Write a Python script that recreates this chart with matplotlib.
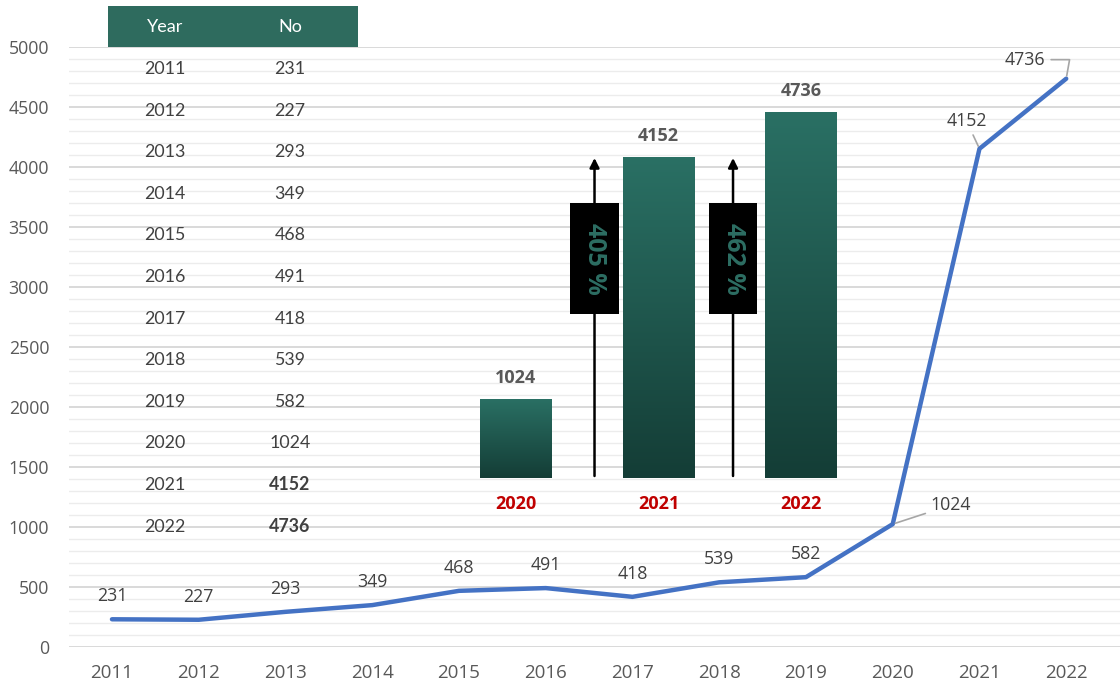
import matplotlib
matplotlib.use('Agg')
import matplotlib.pyplot as plt
import numpy as np
from matplotlib.patches import Rectangle
from matplotlib.colors import LinearSegmentedColormap

# ---------------- data ----------------
years = [2011, 2012, 2013, 2014, 2015, 2016, 2017, 2018, 2019, 2020, 2021, 2022]
counts = [231, 227, 293, 349, 468, 491, 418, 539, 582, 1024, 4152, 4736]
y_ticks = [0, 500, 1000, 1500, 2000, 2500, 3000, 3500, 4000, 4500, 5000]
bar_years = ['2020', '2021', '2022']
bar_values = [1024, 4152, 4736]
growth_labels = ['405 %', '462 %']
table_header = ['Year', 'No']
bold_years = [2021, 2022]

W, H = 1120, 686
fig = plt.figure(figsize=(W / 100, H / 100), dpi=100)
fig.patch.set_facecolor('white')

def fx(px):
    return px / W

def fy(py):
    return 1 - py / H

FONT = 'Open Sans'
TXT = '#595959'

# ---------------- main line chart ----------------
ax = fig.add_axes([fx(68.6), fy(647), fx(1120) - fx(68.6), fy(47) - fy(647)])
ax.set_facecolor('none')
x = np.arange(len(years))
ax.plot(x, counts, color='#4472C4', lw=3.2, solid_joinstyle='round',
        solid_capstyle='round', zorder=3)
ax.set_xlim(-0.5, 11.62)
ax.set_ylim(0, 5000)
ax.set_yticks(y_ticks)
ax.set_yticklabels([str(v) for v in y_ticks], family=FONT)
ax.set_yticks(np.arange(0, 5001, 100), minor=True)
ax.grid(axis='y', which='major', color='#D9D9D9', lw=1.4)
ax.grid(axis='y', which='minor', color='#ECECEC', lw=1.0)
ax.set_axisbelow(True)
for s in ax.spines.values():
    s.set_visible(False)
ax.tick_params(length=0, which='both')
ax.tick_params(axis='y', pad=14, labelsize=12.8, labelcolor=TXT)
ax.set_xticks(x)
ax.set_xticklabels([str(y) for y in years], family=FONT)
ax.tick_params(axis='x', pad=12, labelsize=13.5, labelcolor=TXT)

for i, v in enumerate(counts[:9]):
    ax.annotate(str(v), (i, v), xytext=(0, 16.6), textcoords='offset points',
                ha='center', va='center', fontsize=12.8, color='#404040', family=FONT)

lead = dict(arrowstyle='-', color='#A6A6A6', lw=1.2, shrinkA=2, shrinkB=2)
ax.annotate(str(counts[9]), (9, counts[9]), xytext=(42, 13.7), textcoords='offset points',
            ha='center', va='center', fontsize=12.8, color='#404040', family=FONT,
            arrowprops=lead)
ax.annotate(str(counts[10]), (10, counts[10]), xytext=(-9.4, 20.2), textcoords='offset points',
            ha='center', va='center', fontsize=12.8, color='#404040', family=FONT,
            arrowprops=lead)
lead2 = dict(lead, connectionstyle='angle,angleA=0,angleB=80,rad=0')
ax.annotate(str(counts[11]), (11, counts[11]), xytext=(-29.5, 13.7), textcoords='offset points',
            ha='center', va='center', fontsize=12.8, color='#404040', family=FONT,
            arrowprops=lead2)

# ---------------- inset bar chart ----------------
left_px, right_px = 444.75, 872.25
bot_px = 478
top_px = bot_px - 5000 * 0.0773
axb = fig.add_axes([fx(left_px), fy(bot_px), fx(right_px) - fx(left_px), fy(top_px) - fy(bot_px)])
axb.set_facecolor('none')
axb.axis('off')
bx = np.arange(len(bar_values))
bars = axb.bar(bx, bar_values, width=0.505, color='#24675C', zorder=2)
cmap = LinearSegmentedColormap.from_list('g', ['#143D36', '#2A7064'])
grad = np.linspace(0, 1, 256).reshape(-1, 1)
for b in bars:
    x0, w, h = b.get_x(), b.get_width(), b.get_height()
    im = axb.imshow(grad, extent=[x0, x0 + w, 0, h], origin='lower', cmap=cmap,
                    aspect='auto', zorder=3)
    im.set_clip_path(b)
axb.set_xlim(-0.5, 2.5)
axb.set_ylim(0, 5000)

for i, v in enumerate(bar_values):
    axb.annotate(str(v), (i, v), xytext=(0, 15), textcoords='offset points',
                 ha='center', va='center', fontsize=13, fontweight='bold',
                 color=TXT, family=FONT)
    axb.annotate(bar_years[i], (i, 0), xytext=(0, -18.7), textcoords='offset points',
                 ha='center', va='center', fontsize=13, fontweight='bold',
                 color='#C00000', family=FONT, annotation_clip=False)

arrow_x = [0.551, 1.523]
for k, lab in enumerate(growth_labels):
    ax_ = arrow_x[k]
    axb.annotate('', xy=(ax_, 4140), xytext=(ax_, 26),
                 arrowprops=dict(arrowstyle='-|>', color='black', lw=1.8,
                                 mutation_scale=14, shrinkA=0, shrinkB=0),
                 zorder=4)
    bw = 0.34
    axb.add_patch(Rectangle((ax_ - bw / 2, 2122), bw, 1436, facecolor='black',
                            edgecolor='none', zorder=5))
    axb.text(ax_, 2840, lab, rotation=-90, ha='center', va='center', fontsize=18,
             fontweight='bold', color='#2D6E63', family=FONT, zorder=6)

# ---------------- table ----------------
fig.add_artist(Rectangle((fx(108), fy(47)), fx(358) - fx(108), fy(6) - fy(47),
                         transform=fig.transFigure, facecolor='#2E6B5E',
                         edgecolor='none', zorder=5))
col_x = [165, 290]
TFONT = 'Lato'
for cx, hd in zip(col_x, table_header):
    fig.text(fx(cx), fy(27), hd, ha='center', va='center', fontsize=13,
             color='white', family=TFONT, zorder=6)
for r, (yr, v) in enumerate(zip(years, counts)):
    yy = 69 + r * 41.6
    bold = 'bold' if yr in bold_years else 'normal'
    fig.text(fx(col_x[0]), fy(yy), str(yr), ha='center', va='center', fontsize=12.8,
             color='#404040', family=TFONT)
    fig.text(fx(col_x[1]), fy(yy), str(v), ha='center', va='center', fontsize=12.8,
             color='#404040', family=TFONT, fontweight=bold)

fig.savefig('out.png', dpi=100)
